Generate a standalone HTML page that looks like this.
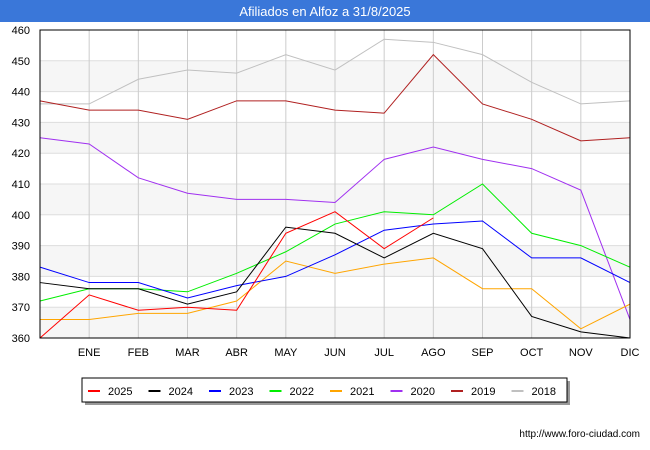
<!DOCTYPE html>
<html><head><meta charset="utf-8"><style>
body{margin:0;background:#fff;font-family:"Liberation Sans",sans-serif}
</style></head><body>
<svg width="650" height="450" id="c" style="display:block">
<rect x="0" y="0" width="650" height="22" fill="#3a77d9"/>
<text x="325" y="16" text-anchor="middle" fill="#fff" font-size="13">Afiliados en Alfoz a 31/8/2025</text>
<g id="grid"></g><g id="series"></g>
<rect x="40" y="30" width="590" height="308" fill="none" stroke="#000"/>
<g id="axes"></g>
<rect x="85" y="381" width="485" height="24" fill="#999"/>
<rect x="82" y="378" width="485" height="24" fill="#fff" stroke="#000"/>
<g id="legend"></g>
<text x="640" y="437" text-anchor="end" font-size="10" fill="#000">http://www.foro-ciudad.com</text>
</svg>
<script>
const months=["","ENE","FEB","MAR","ABR","MAY","JUN","JUL","AGO","SEP","OCT","NOV","DIC"];
const yTicks=[360,370,380,390,400,410,420,430,440,450,460];
const names=["2025","2024","2023","2022","2021","2020","2019","2018"];
const colors=["#ff0000","#000000","#0000ff","#00ee00","#ffa500","#a030f0","#b02020","#c0c0c0"];
const s2025=[360,374,369,370,369,394,401,389,399];
const s2024=[378,376,376,371,375,396,394,386,394,389,367,362,360];
const s2023=[383,378,378,373,377,380,387,395,397,398,386,386,378];
const s2022=[372,376,376,375,381,388,397,401,400,410,394,390,383];
const s2021=[366,366,368,368,372,385,381,384,386,376,376,363,371];
const s2020=[425,423,412,407,405,405,404,418,422,418,415,408,366];
const s2019=[437,434,434,431,437,437,434,433,452,436,431,424,425];
const s2018=[436,436,444,447,446,452,447,457,456,452,443,436,437];
const data=[s2025,s2024,s2023,s2022,s2021,s2020,s2019,s2018];
const NS="http://www.w3.org/2000/svg";
const X=i=>40+i*590/12, Y=v=>338-(v-360)*308/100;
function mk(t,a,p){const e=document.createElementNS(NS,t);for(const k in a)e.setAttribute(k,a[k]);p.appendChild(e);return e;}
const g=document.getElementById('grid'),ax=document.getElementById('axes'),sg=document.getElementById('series'),lg=document.getElementById('legend');
for(let i=0;i<yTicks.length-1;i++){if(i%2==0){const r=mk('rect',{x:40,y:Y(yTicks[i+1]),width:590,height:Y(yTicks[i])-Y(yTicks[i+1]),fill:'#f6f6f6'},g);

}}
yTicks.forEach(v=>{const l=mk('line',{x1:40,x2:630,y1:Y(v),y2:Y(v),stroke:'#ddd'},g);


const t=mk('text',{x:30,y:Y(v)+4,'text-anchor':'end','font-size':11},ax);t.textContent=v;

});
months.forEach((m,i)=>{const l=mk('line',{x1:X(i),x2:X(i),y1:30,y2:338,stroke:'#ccc'},g);


if(m){const t=mk('text',{x:X(i),y:356,'text-anchor':'middle','font-size':11},ax);t.textContent=m;

}});
for(let k=data.length-1;k>=0;k--){const p=mk('polyline',{points:data[k].map((v,i)=>X(i)+','+Y(v)).join(' '),fill:'none',stroke:colors[k],'stroke-width':1},sg);

}
names.forEach((n,k)=>{const x=88+k*60.5;const l=mk('line',{x1:x,x2:x+12,y1:391,y2:391,stroke:colors[k],'stroke-width':2},lg);


const t=mk('text',{x:x+20,y:395,'font-size':11},lg);t.textContent=n;

});
</script>
</body></html>
